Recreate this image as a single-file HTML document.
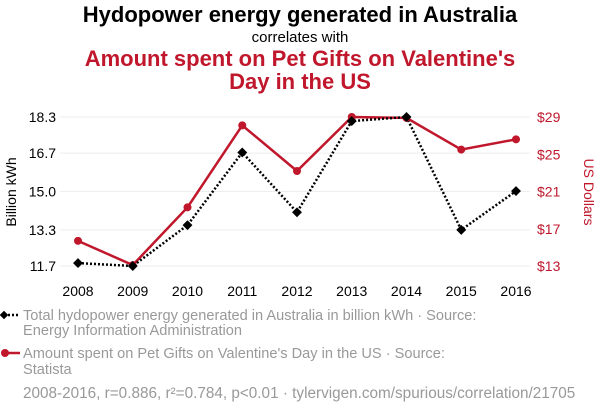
<!DOCTYPE html>
<html><head><meta charset="utf-8"><style>
body{margin:0;background:#fff;width:600px;height:414px;overflow:hidden;font-family:"Liberation Sans",sans-serif}
</style></head><body>
<svg width="600" height="414" xmlns="http://www.w3.org/2000/svg" id="chart" font-family="Liberation Sans, sans-serif">
<text x="300" y="22" text-anchor="middle" font-size="22" font-weight="bold" fill="#000">Hydopower energy generated in Australia</text>
<text x="300" y="42" text-anchor="middle" font-size="15" fill="#000">correlates with</text>
<text x="300" y="66" text-anchor="middle" font-size="22" font-weight="bold" fill="#c0172c">Amount spent on Pet Gifts on Valentine's</text>
<text x="300" y="89" text-anchor="middle" font-size="22" font-weight="bold" fill="#c0172c">Day in the US</text>
<g id="grid"></g><g id="axes"></g><g id="series"></g>
<text transform="translate(16,192) rotate(-90)" text-anchor="middle" font-size="14" fill="#000">Billion kWh</text>
<text transform="translate(584,192) rotate(90)" text-anchor="middle" font-size="14" fill="#c0172c">US Dollars</text>
<g>
<line x1="4" y1="315" x2="20" y2="315" stroke="#000" stroke-width="2.5" stroke-dasharray="2,2"/>
<rect x="1" y="312" width="6" height="6" fill="#000" transform="rotate(45 4 315)"/>
<text x="23" y="320" font-size="14.6" fill="#999">Total hydopower energy generated in Australia in billion kWh · Source:</text>
<text x="23" y="335" font-size="14.6" fill="#999">Energy Information Administration</text></g>
<g>
<line x1="4" y1="353" x2="20" y2="353" stroke="#c0172c" stroke-width="2.5"/>
<circle cx="5" cy="353" r="4" fill="#c0172c"/>
<text x="23" y="358" font-size="14.6" fill="#999">Amount spent on Pet Gifts on Valentine's Day in the US · Source:</text>
<text x="23" y="374" font-size="14.6" fill="#999">Statista</text></g>
<text x="23" y="398" font-size="15.3" fill="#999">2008-2016, r=0.886, r²=0.784, p&lt;0.01 · tylervigen.com/spurious/correlation/21705</text>
</svg>
<script>
const years=[2008,2009,2010,2011,2012,2013,2014,2015,2016];
const hydro=[11.83,11.7,13.51,16.73,14.08,18.12,18.3,13.3,15.02];
const pets=[15.7,13.1,19.3,28.1,23.2,29.0,28.9,25.5,26.6];
const leftTicks=[11.7,13.3,15.0,16.7,18.3];
const leftLabels=["11.7","13.3","15.0","16.7","18.3"];
const rightTicks=[13,17,21,25,29];
const rightLabels=["$13","$17","$21","$25","$29"];
const NS="http://www.w3.org/2000/svg";
const x=v=>78+(v-2008)*(516-78)/8;
const yL=v=>266-(v-11.7)*(266-117)/(18.3-11.7);
const yR=v=>266-(v-13)*(266-117)/16;
function mk(tag,attrs,parent){const e=document.createElementNS(NS,tag);for(const k in attrs)e.setAttribute(k,attrs[k]);document.getElementById(parent).appendChild(e);return e;}
leftTicks.forEach((t,i)=>{
 const g=mk('line',{x1:60,x2:530,y1:yL(t),y2:yL(t),stroke:'#eee','stroke-width':1},'grid');
 
 
 const l=mk('text',{x:56,y:yL(t)+5,'text-anchor':'end','font-size':14,fill:'#000'},'axes');l.textContent=leftLabels[i];
 
 
});
rightTicks.forEach((t,i)=>{
 const l=mk('text',{x:537,y:yR(t)+5,'font-size':14,fill:'#c0172c'},'axes');l.textContent=rightLabels[i];
 
 
});
years.forEach(yr=>{
 const l=mk('text',{x:x(yr),y:296,'text-anchor':'middle','font-size':14,fill:'#000'},'axes');l.textContent=yr;
 
 
});
const rp=mk('polyline',{points:years.map((yr,i)=>x(yr)+','+yR(pets[i])).join(' '),fill:'none',stroke:'#c0172c','stroke-width':2.5},'series');


const bp=mk('polyline',{points:years.map((yr,i)=>x(yr)+','+yL(hydro[i])).join(' '),fill:'none',stroke:'#000','stroke-width':2.5,'stroke-dasharray':'2,2'},'series');


years.forEach((yr,i)=>{
 const c=mk('circle',{cx:x(yr),cy:yR(pets[i]),r:4,fill:'#c0172c'},'series');
 
 
 const cx=x(yr),cy=yL(hydro[i]);
 const d=mk('rect',{x:cx-3.5,y:cy-3.5,width:7,height:7,fill:'#000',transform:`rotate(45 ${cx} ${cy})`},'series');
 
 
});
</script>
</body></html>
